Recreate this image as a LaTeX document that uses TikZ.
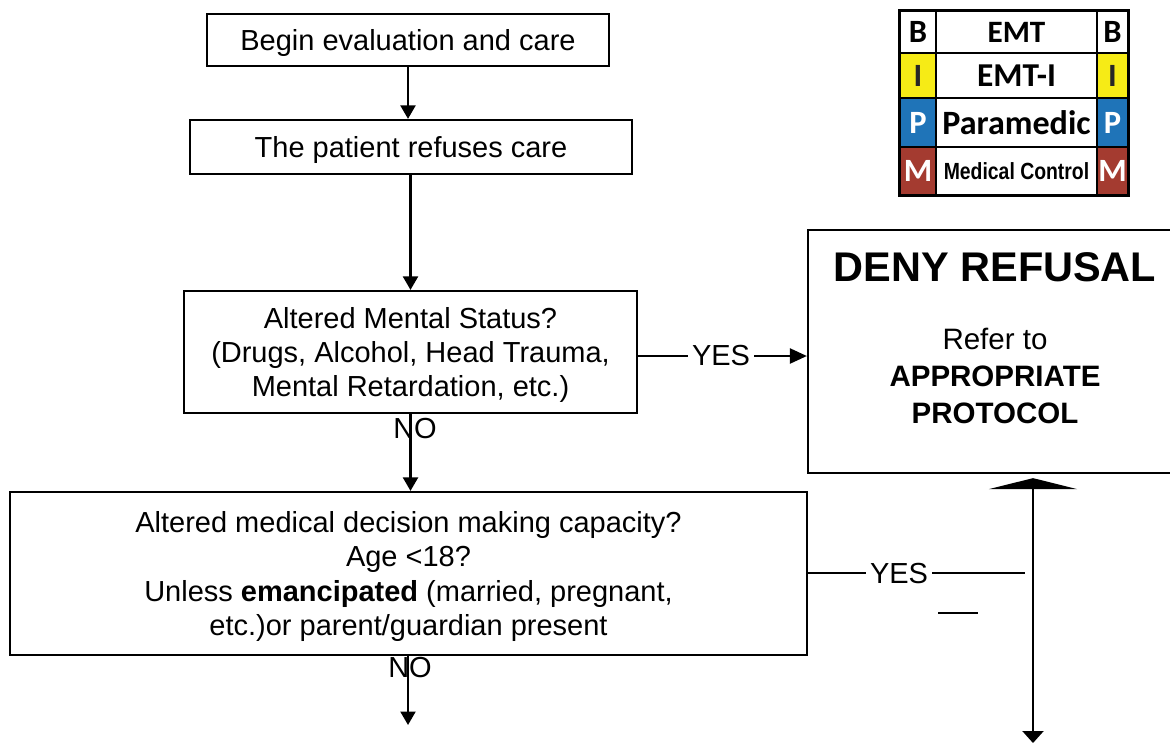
\documentclass[tikz,border=0pt]{standalone}
\usepackage{fontspec}
\setmainfont{Liberation Sans}
\newfontfamily\legfont{Carlito}
\usetikzlibrary{arrows.meta}
\definecolor{levI}{HTML}{F6EB16}
\definecolor{levP}{HTML}{1F74B8}
\definecolor{levM}{HTML}{A43B30}
\begin{document}
\begin{tikzpicture}[x=0.02cm,y=-0.02cm,
  flowbox/.style={draw, line width=1.3pt, inner sep=0pt, align=center, text depth=0pt,
    font=\fontsize{16.5}{19.5}\selectfont},
  lbl/.style={inner sep=0.08cm, font=\fontsize{16.5}{19.5}\selectfont},
  link/.style={line width=1.3pt},
  arr/.style={link, -{Triangle[length=0.27cm,width=0.3cm]}},
  cell/.style={draw, line width=0.8pt, inner sep=0pt, minimum height=#1},
  letter/.style={font=\legfont\bfseries\fontsize{18.5}{18.5}\selectfont},
  lev/.style={font=\legfont\bfseries\fontsize{#1}{#1}\selectfont}
]
\clip (0,0) rectangle (1170,745);

% main flow
\node[flowbox, minimum width=8.04cm, minimum height=1.04cm] (begin) at (408,40)
  {Begin evaluation and care};
\node[flowbox, minimum width=8.84cm, minimum height=1.08cm] (refuse) at (411,147)
  {The patient refuses care};
\node[flowbox, minimum width=9.06cm, minimum height=2.44cm] (ams) at (410.5,352)
  {Altered Mental Status?\\(Drugs, Alcohol, Head Trauma,\\Mental Retardation, etc.)};
\node[flowbox, minimum width=15.94cm, minimum height=3.26cm] (capacity) at (408.5,573.5)
  {Altered medical decision making capacity?\\Age <18?\\Unless \textbf{emancipated} (married, pregnant,\\etc.)or parent/guardian present};

% outcome box
\node[draw, line width=1.3pt, minimum width=7.44cm, minimum height=4.86cm] (deny) at (994,351.5) {};
\node[font=\bfseries\fontsize{23.6}{28}\selectfont] (denyT) at (995,267) {DENY REFUSAL};
\node[align=center, font=\fontsize{16.8}{21}\selectfont] (denyR) at (995,376)
  {Refer to\\\textbf{APPROPRIATE}\\\textbf{PROTOCOL}};

% connectors
\draw[arr] (begin.south) -- (begin.south |- refuse.north);
\draw[arr] (ams.north |- refuse.south) -- (ams.north);
\draw[arr] (ams.south) -- (ams.south |- capacity.north);
\coordinate (nextstep) at (408,725);
\draw[arr] (capacity.south -| nextstep) -- (nextstep);
\node[lbl] (no1) at (415,429) {NO};
\node[lbl] (no2) at (410,668) {NO};

\node[lbl] (yes1) at (721,356) {YES};
\draw[link] (ams.east |- yes1) -- (yes1.west);
\draw[arr, -{Triangle[length=0.34cm,width=0.3cm]}] (yes1.east) -- (deny.west |- yes1);

\node[lbl] (yes2) at (899,574) {YES};
\coordinate (yesend) at (1025,573);
\draw[link] (capacity.east |- yesend) -- (yes2.west |- yesend);
\draw[link] (yes2.east |- yesend) -- (yesend);
\draw[link] (938,613) -- (978,613);

\coordinate (vbot) at (1033,743);
\draw[link, {Triangle[length=0.22cm,width=1.76cm]}-{Triangle[length=0.24cm,width=0.42cm]},
  shorten <=0.08cm] (deny.south -| vbot) -- (vbot);

% certification level key
\node[cell=0.84cm, minimum width=0.72cm, letter] (kB1) at (918,32) {B};
\node[cell=0.84cm, minimum width=3.22cm, lev=17.7] (kEMT) at (1016.5,32) {EMT};
\node[cell=0.84cm, minimum width=0.62cm, letter] (kB2) at (1112.5,32) {B};
\node[cell=0.9cm, minimum width=0.72cm, fill=levI, letter, text=black!85] (kI1) at (918,75.5) {I};
\node[cell=0.9cm, minimum width=3.22cm, lev=19] (kEMTI) at (1016.5,75.5) {EMT-I};
\node[cell=0.9cm, minimum width=0.62cm, fill=levI, letter, text=black!85] (kI2) at (1112.5,75.5) {I};
\node[cell=0.98cm, minimum width=0.72cm, fill=levP, letter, text=white] (kP1) at (918,122.5) {P};
\node[cell=0.98cm, minimum width=3.22cm, lev=19.4] (kPar) at (1016.5,122.5) {Paramedic};
\node[cell=0.98cm, minimum width=0.62cm, fill=levP, letter, text=white] (kP2) at (1112.5,122.5) {P};
\node[cell=0.96cm, minimum width=0.72cm, fill=levM, letter, text=white] (kM1) at (918,171) {M};
\node[cell=0.96cm, minimum width=3.22cm, font=\bfseries\fontsize{13.3}{13.3}\selectfont] (kMed) at (1016.5,171)
  {\scalebox{0.83}[1]{Medical Control}};
\node[cell=0.96cm, minimum width=0.62cm, fill=levM, letter, text=white] (kM2) at (1112.5,171) {M};
\draw[line width=1.6pt] (kB1.north west) rectangle (kM2.south east);
\end{tikzpicture}
\end{document}
